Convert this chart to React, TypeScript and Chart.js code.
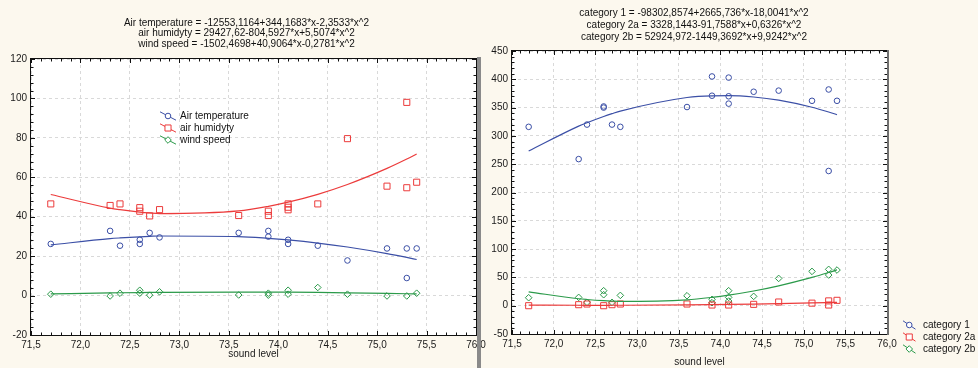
import React, { useEffect, useRef } from "react";
import { Chart, registerables } from "chart.js";

Chart.register(...registerables);

const FONT = "'Liberation Sans', Arial, sans-serif";
const CREAM = "#fcf8ee";
const BLUE = "#3b4fa6";
const RED = "#ec3b3b";
const GREEN = "#2b9a4a";

// ---------- shared axis ----------
const xTitle = "sound level";
const xMin = 71.5;
const xMax = 76.0;
const xStep = 0.5;

// x values used to trace the fitted curves (the measured x positions)
const fitX = [71.7, 72.3, 72.4, 72.6, 72.7, 72.8, 73.6, 73.9, 74.1, 74.4, 74.7, 75.1, 75.3, 75.4];

// ---------- left panel ----------
const leftTitle = [
  "Air temperature = -12553,1164+344,1683*x-2,3533*x^2",
  "air humidyty = 29427,62-804,5927*x+5,5074*x^2",
  "wind speed = -1502,4698+40,9064*x-0,2781*x^2",
];
const leftLegend = ["Air temperature", "air humidyty", "wind speed"];
const leftYMin = -20;
const leftYMax = 120;
const leftYStep = 20;

const tempX = [71.7, 72.3, 72.4, 72.6, 72.6, 72.7, 72.8, 73.6, 73.9, 73.9, 74.1, 74.1, 74.4, 74.7, 75.1, 75.3, 75.3, 75.4];
const tempY = [26.2, 32.8, 25.3, 28.3, 26.2, 31.8, 29.5, 31.8, 32.8, 29.9, 28.3, 26.2, 25.3, 17.8, 23.9, 23.9, 8.9, 23.9];

const humX = [71.7, 72.3, 72.4, 72.6, 72.6, 72.7, 72.8, 73.6, 73.9, 73.9, 74.1, 74.1, 74.1, 74.4, 74.7, 75.1, 75.3, 75.3, 75.4];
const humY = [46.5, 45.7, 46.5, 44.6, 42.8, 40.4, 43.6, 40.6, 42.8, 40.6, 46.5, 44.8, 43.5, 46.5, 79.6, 55.5, 98.0, 54.7, 57.5];

const windX = [71.7, 72.3, 72.4, 72.6, 72.6, 72.7, 72.8, 73.6, 73.9, 73.9, 74.1, 74.1, 74.4, 74.7, 75.1, 75.3, 75.4];
const windY = [0.7, -0.2, 1.2, 2.7, 1.2, 0.2, 1.9, 0.3, 1.2, 0.2, 2.7, 0.7, 4.1, 0.7, -0.2, -0.2, 1.2];

// coefficients printed in the chart title: c0 + c1*x + c2*x^2
const tempFit = [-12553.1164, 344.1683, -2.3533];
const humFit = [29427.62, -804.5927, 5.5074];
const windFit = [-1502.4698, 40.9064, -0.2781];

// ---------- right panel ----------
const rightTitle = [
  "category 1 = -98302,8574+2665,736*x-18,0041*x^2",
  "category 2a = 3328,1443-91,7588*x+0,6326*x^2",
  "category 2b = 52924,972-1449,3692*x+9,9242*x^2",
];
const rightLegend = ["category 1", "category 2a", "category 2b"];
const rightYMin = -50;
const rightYMax = 450;
const rightYStep = 50;

const cat1X = [71.7, 72.3, 72.4, 72.6, 72.6, 72.7, 72.8, 73.6, 73.9, 73.9, 74.1, 74.1, 74.1, 74.4, 74.7, 75.1, 75.3, 75.3, 75.4];
const cat1Y = [316, 259, 320, 352, 350, 320, 316, 351, 405, 371, 403, 370, 357, 378, 380, 362, 382, 238, 362];

const cat2aX = [71.7, 72.3, 72.4, 72.6, 72.7, 72.8, 73.6, 73.9, 74.1, 74.4, 74.7, 75.1, 75.3, 75.3, 75.4];
const cat2aY = [0, 1.8, 3, 0, 1.8, 3, 3, 1.2, 1.2, 2.4, 6.5, 4.5, 8.5, 1.2, 9.5];

const cat2bX = [71.7, 72.3, 72.4, 72.6, 72.6, 72.7, 72.8, 73.6, 73.9, 73.9, 74.1, 74.1, 74.1, 74.4, 74.7, 75.1, 75.3, 75.3, 75.4];
const cat2bY = [14.1, 14.7, 5.9, 26.5, 19.4, 5.9, 18.2, 17.6, 11.2, 5.3, 26.5, 14.7, 8.2, 16.5, 48.2, 60.6, 64.2, 54.2, 63.0];

const cat1Fit = [-98302.8574, 2665.736, -18.0041];
const cat2aFit = [3328.1443, -91.7588, 0.6326];
const cat2bFit = [52924.972, -1449.3692, 9.9242];

// ---------- helpers ----------
const pts = (xs: number[], ys: number[]) => xs.map((x, i) => ({ x, y: ys[i] }));
const fitPts = (c: number[]) => fitX.map((x) => ({ x, y: c[0] + c[1] * x + c[2] * x * x }));

type Style = "circle" | "rect" | "rectRot";
const RADIUS: Record<Style, number> = { circle: 2.8, rect: 4.3, rectRot: 3.3 };

function drawMarker(ctx: CanvasRenderingContext2D, style: Style, x: number, y: number, color: string) {
  const r = RADIUS[style];
  ctx.save();
  ctx.strokeStyle = color;
  ctx.lineWidth = 1;
  ctx.fillStyle = "#ffffff";
  ctx.beginPath();
  if (style === "circle") {
    ctx.arc(x, y, r, 0, Math.PI * 2);
  } else if (style === "rect") {
    const s = r * Math.SQRT1_2;
    ctx.rect(x - s, y - s, 2 * s, 2 * s);
  } else {
    ctx.moveTo(x - r, y);
    ctx.lineTo(x, y - r);
    ctx.lineTo(x + r, y);
    ctx.lineTo(x, y + r);
    ctx.closePath();
  }
  ctx.fill();
  ctx.stroke();
  ctx.restore();
}

type Series = { label: string; color: string; style: Style; xs: number[]; ys: number[]; fit: number[] };

type Panel = {
  series: Series[];
  title: string[];
  titleX: number;
  titleY0: number;
  titleStep: number;
  legendX: number;
  legendLen: number;
  legendTextX: number;
  legendY0: number;
  legendStep: number;
  yMin: number;
  yMax: number;
  yStep: number;
  yMinor: number;
  padding: { left: number; top: number; right: number; bottom: number };
  yAxisWidth: number;
  xAxisHeight: number;
  xTitlePad: number;
  bar?: { x: number; y: number; w: number; h: number };
  rightBorder?: boolean;
};

function makeDecor(p: Panel) {
  return {
    id: "decor",
    beforeDraw(chart: any) {
      const { ctx, chartArea: a } = chart;
      ctx.save();
      ctx.fillStyle = "#ffffff";
      ctx.fillRect(a.left, a.top, a.right - a.left, a.bottom - a.top);
      ctx.restore();
    },
    afterDraw(chart: any) {
      const { ctx, chartArea: a } = chart;
      const xs = chart.scales.x;
      const ys = chart.scales.y;
      ctx.save();
      // frame
      ctx.strokeStyle = "#111111";
      ctx.lineWidth = 1;
      ctx.strokeRect(a.left - 0.5, a.top - 0.5, a.right - a.left + 1, a.bottom - a.top + 1);
      // minor / major ticks
      ctx.beginPath();
      const nx = Math.round((xMax - xMin) / 0.1);
      for (let i = 0; i <= nx; i++) {
        const v = xMin + i * 0.1;
        const px = Math.round(xs.getPixelForValue(v)) + 0.5;
        const len = i % 5 === 0 ? 4 : 2.5;
        ctx.moveTo(px, a.bottom);
        ctx.lineTo(px, a.bottom - len);
        ctx.moveTo(px, a.top);
        ctx.lineTo(px, a.top + len);
      }
      const ny = Math.round((p.yMax - p.yMin) / p.yMinor);
      for (let i = 0; i <= ny; i++) {
        const v = p.yMin + i * p.yMinor;
        const py = Math.round(ys.getPixelForValue(v)) + 0.5;
        const len = i % 5 === 0 ? 4 : 2.5;
        ctx.moveTo(a.left, py);
        ctx.lineTo(a.left + len, py);
        ctx.moveTo(a.right, py);
        ctx.lineTo(a.right - len, py);
      }
      ctx.stroke();
      if (p.rightBorder) {
        ctx.fillStyle = "#6f6f6f";
        ctx.fillRect(a.right, a.top - 1, 2, a.bottom - a.top + 2);
      }
      if (p.bar) {
        ctx.fillStyle = "#8a8a8a";
        ctx.fillRect(p.bar.x, p.bar.y, p.bar.w, p.bar.h);
      }
      // titles
      ctx.fillStyle = "#111111";
      ctx.font = `10px ${FONT}`;
      ctx.textAlign = "center";
      ctx.textBaseline = "middle";
      p.title.forEach((t, i) => ctx.fillText(t, p.titleX, p.titleY0 + i * p.titleStep));
      // legend
      p.series.forEach((s, i) => {
        const yc = p.legendY0 + i * p.legendStep;
        ctx.strokeStyle = s.color;
        ctx.lineWidth = 1;
        ctx.beginPath();
        ctx.moveTo(p.legendX, yc - 4.2);
        ctx.lineTo(p.legendX + p.legendLen, yc + 4.2);
        ctx.stroke();
        drawMarker(ctx, s.style, p.legendX + p.legendLen / 2, yc, s.color);
        ctx.fillStyle = "#111111";
        ctx.textAlign = "left";
        ctx.textBaseline = "middle";
        ctx.fillText(s.label, p.legendTextX, yc);
      });
      ctx.restore();
    },
  };
}

function buildConfig(p: Panel): any {
  const datasets: any[] = [];
  p.series.forEach((s) => {
    datasets.push({
      label: s.label + " fit",
      data: fitPts(s.fit),
      showLine: true,
      pointRadius: 0,
      borderColor: s.color,
      borderWidth: 1.2,
      cubicInterpolationMode: "monotone",
      fill: false,
    });
  });
  p.series.forEach((s) => {
    datasets.push({
      label: s.label,
      data: pts(s.xs, s.ys),
      showLine: false,
      pointStyle: s.style,
      pointRadius: RADIUS[s.style],
      pointBorderColor: s.color,
      pointBackgroundColor: "rgba(0,0,0,0)",
      pointBorderWidth: 1,
      borderColor: s.color,
      backgroundColor: "rgba(0,0,0,0)",
    });
  });
  const tickFont = { family: FONT, size: 10 };
  return {
    type: "scatter",
    data: { datasets },
    options: {
      responsive: false,
      animation: false,
      devicePixelRatio: 1,
      events: [],
      layout: { padding: p.padding },
      plugins: {
        legend: { display: false },
        title: { display: false },
        tooltip: { enabled: false },
      },
      scales: {
        x: {
          type: "linear",
          min: xMin,
          max: xMax,
          afterFit: (s: any) => {
            s.height = p.xAxisHeight;
          },
          ticks: {
            stepSize: xStep,
            autoSkip: false,
            maxRotation: 0,
            padding: 4,
            color: "#1a1a1a",
            font: tickFont,
            callback: (v: any) => Number(v).toFixed(1).replace(".", ","),
          },
          grid: { color: "#d9d9d9", lineWidth: 1, drawTicks: false },
          border: { display: false, dash: [3, 3] },
          title: {
            display: true,
            text: xTitle,
            color: "#1a1a1a",
            font: tickFont,
            padding: { top: 0, bottom: p.xTitlePad },
          },
        },
        y: {
          type: "linear",
          min: p.yMin,
          max: p.yMax,
          afterFit: (s: any) => {
            s.width = p.yAxisWidth;
          },
          ticks: {
            stepSize: p.yStep,
            autoSkip: false,
            padding: 4,
            color: "#1a1a1a",
            font: tickFont,
          },
          grid: { color: "#d9d9d9", lineWidth: 1, drawTicks: false },
          border: { display: false, dash: [3, 3] },
        },
      },
    },
    plugins: [makeDecor(p)],
  };
}

const leftPanel: Panel = {
  series: [
    { label: leftLegend[0], color: BLUE, style: "circle", xs: tempX, ys: tempY, fit: tempFit },
    { label: leftLegend[1], color: RED, style: "rect", xs: humX, ys: humY, fit: humFit },
    { label: leftLegend[2], color: GREEN, style: "rectRot", xs: windX, ys: windY, fit: windFit },
  ],
  title: leftTitle,
  titleX: 246.5,
  titleY0: 23.3,
  titleStep: 10.4,
  legendX: 160,
  legendLen: 16,
  legendTextX: 180,
  legendY0: 116,
  legendStep: 12,
  yMin: leftYMin,
  yMax: leftYMax,
  yStep: leftYStep,
  yMinor: 4,
  padding: { left: 0, top: 59, right: 16, bottom: 0 },
  yAxisWidth: 31,
  xAxisHeight: 33,
  xTitlePad: 8,
  bar: { x: 477, y: 57, w: 4, h: 311 },
};

const rightPanel: Panel = {
  series: [
    { label: rightLegend[0], color: BLUE, style: "circle", xs: cat1X, ys: cat1Y, fit: cat1Fit },
    { label: rightLegend[1], color: RED, style: "rect", xs: cat2aX, ys: cat2aY, fit: cat2aFit },
    { label: rightLegend[2], color: GREEN, style: "rectRot", xs: cat2bX, ys: cat2bY, fit: cat2bFit },
  ],
  title: rightTitle,
  titleX: 694 - 486,
  titleY0: 13.3,
  titleStep: 12,
  legendX: 903 - 486,
  legendLen: 12.5,
  legendTextX: 923 - 486,
  legendY0: 325,
  legendStep: 12,
  yMin: rightYMin,
  yMax: rightYMax,
  yStep: rightYStep,
  yMinor: 10,
  padding: { left: 0, top: 51, right: 91, bottom: 0 },
  yAxisWidth: 26,
  xAxisHeight: 34,
  xTitlePad: 0,
  rightBorder: true,
};

export default function App() {
  const leftRef = useRef<HTMLCanvasElement>(null);
  const rightRef = useRef<HTMLCanvasElement>(null);

  useEffect(() => {
    Chart.defaults.font.family = FONT;
    const c1 = new Chart(leftRef.current as HTMLCanvasElement, buildConfig(leftPanel));
    const c2 = new Chart(rightRef.current as HTMLCanvasElement, buildConfig(rightPanel));
    return () => {
      c1.destroy();
      c2.destroy();
    };
  }, []);

  return (
    <div
      style={{
        position: "absolute",
        left: 0,
        top: 0,
        width: 978,
        height: 368,
        background: CREAM,
        overflow: "hidden",
      }}
    >
      <canvas
        ref={leftRef}
        width={492}
        height={368}
        style={{ position: "absolute", left: 0, top: 0, width: 492, height: 368 }}
      />
      <canvas
        ref={rightRef}
        width={492}
        height={368}
        style={{ position: "absolute", left: 486, top: 0, width: 492, height: 368 }}
      />
    </div>
  );
}
